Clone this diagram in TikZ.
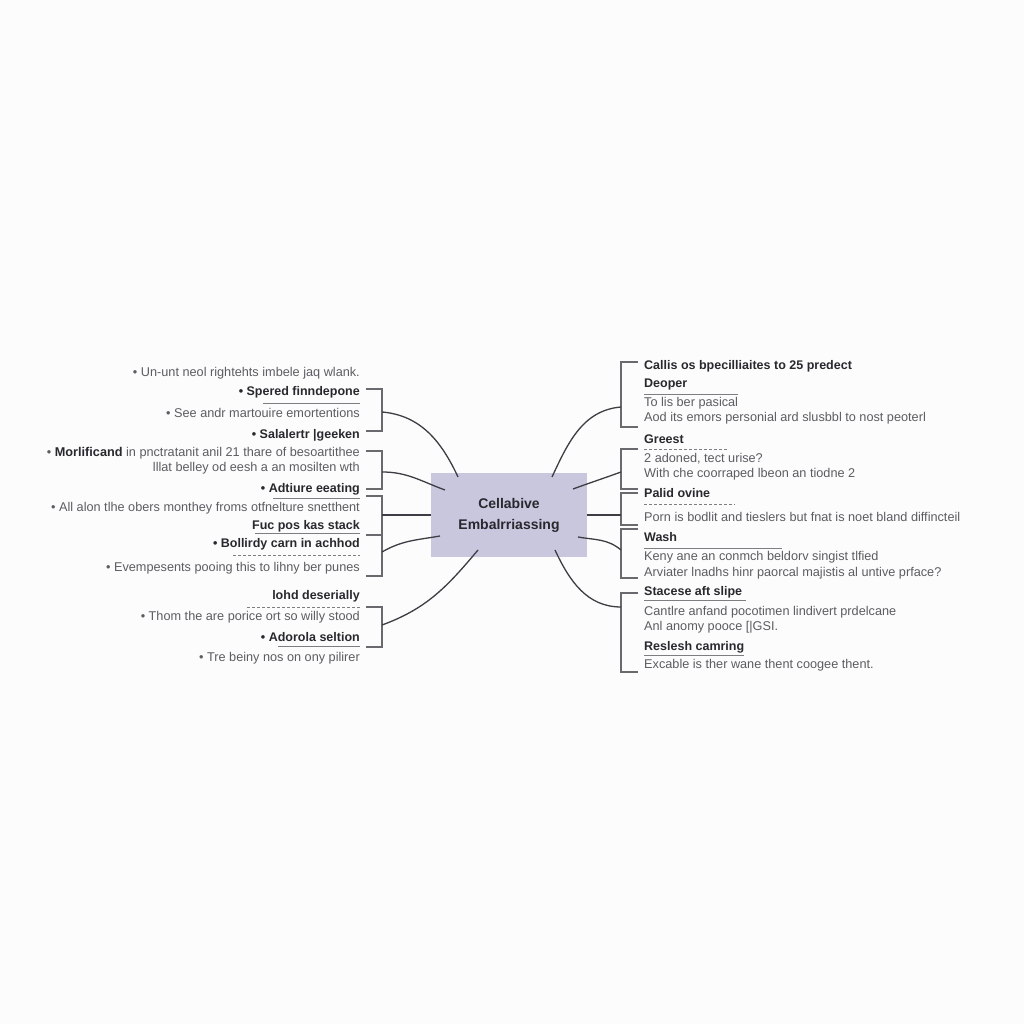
\documentclass[tikz,border=0pt]{standalone}
\usepackage{fontspec}
\setmainfont{Liberation Sans}
\definecolor{hubfill}{RGB}{201,199,222}
\definecolor{inkdark}{RGB}{40,40,46}
\definecolor{inkgray}{RGB}{92,92,98}
\definecolor{rulegray}{RGB}{125,125,130}
\definecolor{paper}{RGB}{252,252,252}

\begin{document}
\begin{tikzpicture}[x=1pt, y=1pt,
        hub/.style={rectangle, fill=hubfill, minimum width=156pt, minimum height=84pt,
            align=center, font=\fontsize{14}{21}\selectfont\bfseries, text=inkdark},
        lefttext/.style={anchor=east, inner sep=0pt, font=\fontsize{12.7}{14}\selectfont, text=inkgray},
        righttext/.style={anchor=west, inner sep=0pt, font=\fontsize{12.7}{14}\selectfont, text=inkgray},
        head/.style={font=\fontsize{12.5}{14}\selectfont\bfseries, text=inkdark},
        bracket/.style={draw=rulegray!85!black, line width=1.1pt},
        rule/.style={draw=rulegray, line width=0.8pt},
        link/.style={draw=inkdark!90, line width=1.3pt}
    ]
        % Page
        \fill[paper] (0,0) rectangle (1024,1024);

        % Central topic
        \node[hub] (hub) at (509,509) {Cellabive\\Embalrriassing};

        % Left side texts
        \node[lefttext] (l1) at (360,651) {• Un-unt neol rightehts imbele jaq wlank.};
        \node[lefttext, head] (l2) at (360,632) {• Spered finndepone};
        \node[lefttext] (l3) at (360,611) {• See andr martouire emortentions};
        \node[lefttext, head] (l4) at (360,589) {• Salalertr |geeken};
        \node[lefttext] (l5) at (360,571) {• \textbf{\color{inkdark}Morlificand} in pnctratanit anil 21 thare of besoartithee};
        \node[lefttext] (l6) at (360,556) {lllat belley od eesh a an mosilten wth};
        \node[lefttext, head] (l7) at (360,535) {• Adtiure eeating};
        \node[lefttext] (l8) at (360,516) {• All alon tlhe obers monthey froms otfnelture snetthent};
        \node[lefttext, head] (l9) at (360,498) {Fuc pos kas stack};
        \node[lefttext, head] (l10) at (360,480) {• Bollirdy carn in achhod};
        \node[lefttext] (l11) at (360,456) {• Evempesents pooing this to lihny ber punes};
        \node[lefttext, head] (l12) at (360,428) {lohd deserially};
        \node[lefttext] (l13) at (360,407) {• Thom the are porice ort so willy stood};
        \node[lefttext, head] (l14) at (360,387) {• Adorola seltion};
        \node[lefttext] (l15) at (360,366) {• Tre beiny nos on ony pilirer};

        % Left underlines
        \draw[rule] (263,621) -- (360,621);
        \draw[rule] (273,526) -- (360,526);
        \draw[rule] (255,491) -- (360,491);
        \draw[rule, densely dashed] (233,469) -- (360,469);
        \draw[rule, densely dashed] (247,417) -- (360,417);
        \draw[rule] (278,378) -- (360,378);

        % Right side texts
        \node[righttext, head] (r1) at (644,658) {Callis os bpecilliaites to 25 predect};
        \node[righttext, head] (r2) at (644,639) {Deoper};
        \node[righttext] (r3) at (644,621) {To lis ber pasical};
        \node[righttext] (r4) at (644,606) {Aod its emors personial ard slusbbl to nost peoterl};
        \node[righttext, head] (r5) at (644,585) {Greest};
        \node[righttext] (r6) at (644,565) {2 adoned, tect urise?};
        \node[righttext] (r7) at (644,550) {With che coorraped lbeon an tiodne 2};
        \node[righttext, head] (r8) at (644,531) {Palid ovine};
        \node[righttext] (r9) at (644,507) {Porn is bodlit and tieslers but fnat is noet bland diffincteil};
        \node[righttext, head] (r10) at (644,487) {Wash};
        \node[righttext] (r11) at (644,467) {Keny ane an conmch beldorv singist tlfied};
        \node[righttext] (r12) at (644,451) {Arviater lnadhs hinr paorcal majistis al untive prface?};
        \node[righttext, head] (r13) at (644,432) {Stacese aft slipe};
        \node[righttext] (r14) at (644,412) {Cantlre anfand pocotimen lindivert prdelcane};
        \node[righttext] (r15) at (644,397) {Anl anomy pooce [|GSI.};
        \node[righttext, head] (r16) at (644,377) {Reslesh camring};
        \node[righttext] (r17) at (644,359) {Excable is ther wane thent coogee thent.};

        % Right underlines
        \draw[rule] (644,630) -- (738,630);
        \draw[rule, densely dashed] (644,575) -- (727,575);
        \draw[rule, densely dashed] (644,520) -- (735,520);
        \draw[rule] (644,476) -- (782,476);
        \draw[rule] (644,424) -- (746,424);
        \draw[rule] (644,369) -- (744,369);

        % Left brackets
        \draw[bracket] (366,635) -| (382,593) -- (366,593);
        \draw[bracket] (366,573) -| (382,535) -- (366,535);
        \draw[bracket] (366,528) -| (382,489) -- (366,489);
        \draw[bracket] (366,489) -| (382,448) -- (366,448);
        \draw[bracket] (366,417) -| (382,377) -- (366,377);

        % Right brackets
        \draw[bracket] (638,662) -| (621,597) -- (638,597);
        \draw[bracket] (638,575) -| (621,535) -- (638,535);
        \draw[bracket] (638,531) -| (621,499) -- (638,499);
        \draw[bracket] (638,495) -| (621,446) -- (638,446);
        \draw[bracket] (638,431) -| (621,352) -- (638,352);

        % Bracket and hub ends
        \coordinate (bl1) at (382,612);
        \coordinate (bl2) at (382,552);
        \coordinate (bl3) at (382,509);
        \coordinate (bl4) at (382,472);
        \coordinate (bl5) at (382,399);
        \coordinate (br1) at (621,617);
        \coordinate (br2) at (621,552);
        \coordinate (br3) at (621,509);
        \coordinate (br4) at (621,474);
        \coordinate (br5) at (621,417);
        \coordinate (h1) at (458,547);
        \coordinate (h2) at (445,534);
        \coordinate (h4) at (440,488);
        \coordinate (h5) at (478,474);
        \coordinate (h6) at (552,547);
        \coordinate (h7) at (573,535);
        \coordinate (h9) at (578,487);
        \coordinate (h10) at (555,474);

        % Connect everything
        \draw[link] (bl1) to[out=-5, in=115] (h1);
        \draw[link] (bl2) to[out=0, in=160] (h2);
        \draw[link] (bl3) -- (hub.west);
        \draw[link] (bl4) to[out=30, in=190] (h4);
        \draw[link] (bl5) to[out=20, in=-130] (h5);
        \draw[link] (br1) to[out=185, in=65] (h6);
        \draw[link] (br2) to[out=200, in=20] (h7);
        \draw[link] (br3) -- (hub.east);
        \draw[link] (br4) to[out=140, in=-10] (h9);
        \draw[link] (br5) to[out=180, in=-65] (h10);
    \end{tikzpicture}
\end{document}
